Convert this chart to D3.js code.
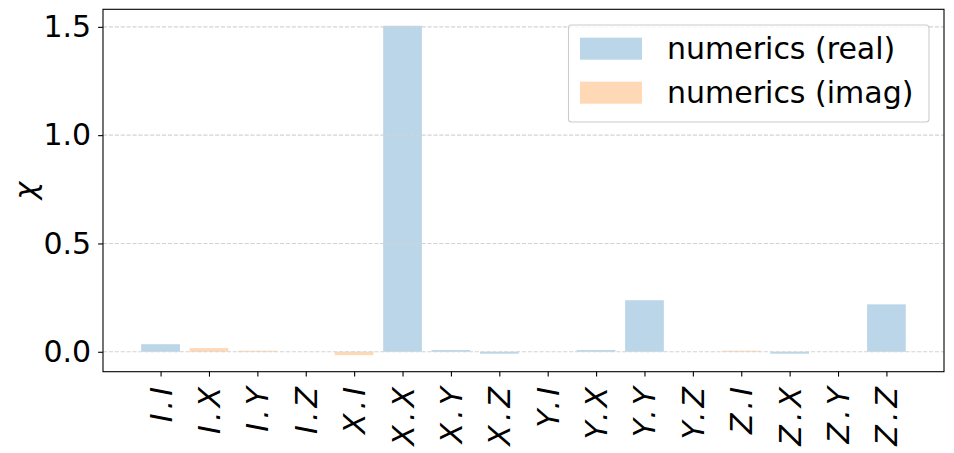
<!DOCTYPE html>
<html><head><meta charset="utf-8">
<script src="https://cdn.jsdelivr.net/npm/d3@7"></script>
<style>body{margin:0;background:#fff;}svg{display:block;}</style>
</head><body>
<svg id="c" width="954" height="453"></svg>
<script>
const categories = ["I.I","I.X","I.Y","I.Z","X.I","X.X","X.Y","X.Z","Y.I","Y.X","Y.Y","Y.Z","Z.I","Z.X","Z.Y","Z.Z"];
const realValues = [0.035, 0, 0, 0, 0, 1.505, 0.008, -0.009, 0, 0.008, 0.238, 0, 0, -0.009, 0, 0.219];
const imagValues = [0, 0.017, 0.005, 0, -0.016, 0, 0, 0, 0, 0, 0, 0, 0.005, 0, 0, 0];
const yTicks = [0.0, 0.5, 1.0, 1.5];
const seriesNames = ["numerics (real)", "numerics (imag)"];

const svg = d3.select("#c");
const L = 103, R = 944, T = 9.3, B = 371.7;
const font = "DejaVu Sans, sans-serif";
const FS = 30;
const x = d3.scaleLinear().domain([-1.19, 16.19]).range([L, R]);
const y = d3.scaleLinear().domain([-0.092, 1.581]).range([B, T]);
const bw = 0.8;

function bars(vals, color) {
  svg.append("g").selectAll("rect").data(vals).join("rect")
    .attr("x", (d, i) => x(i - bw / 2))
    .attr("width", x(bw) - x(0))
    .attr("y", d => y(Math.max(0, d)))
    .attr("height", d => Math.abs(y(d) - y(0)))
    .attr("fill", color).attr("fill-opacity", 0.3);
}
bars(realValues, "#1f77b4");
bars(imagValues, "#ff7f0e");

// grid
svg.append("g").selectAll("line").data(yTicks).join("line")
  .attr("x1", L).attr("x2", R)
  .attr("y1", d => y(d)).attr("y2", d => y(d))
  .attr("stroke", "#d3d3d3").attr("stroke-width", 1.1)
  .attr("stroke-dasharray", "4.1,1.8");

// axes
const yAxis = d3.axisLeft(y).tickValues(yTicks).tickFormat(d3.format(".1f")).tickSize(4.9).tickPadding(7);
const gy = svg.append("g").attr("transform", `translate(${L},0)`).call(yAxis);
gy.select(".domain").remove();
gy.selectAll("line").attr("stroke", "#000").attr("stroke-width", 1.1);
gy.selectAll("text").attr("font-family", font).attr("font-size", FS).attr("fill", "#000");

const xAxis = d3.axisBottom(x).tickValues(d3.range(categories.length)).tickFormat(i => categories[i]).tickSize(4.9).tickPadding(0);
const gx = svg.append("g").attr("transform", `translate(0,${B})`).call(xAxis);
gx.select(".domain").remove();
gx.selectAll("line").attr("stroke", "#000").attr("stroke-width", 1.1);
gx.selectAll("text")
  .attr("font-family", font).attr("font-size", FS).attr("font-style", "italic")
  .attr("fill", "#000").attr("letter-spacing", "4px")
  .attr("text-anchor", "middle").attr("dy", null).attr("y", 0)
  .attr("dominant-baseline", "central")
  .attr("transform", "rotate(-90)");
gx.selectAll(".tick").each(function() {
  const t = d3.select(this).select("text");
  const bb = this.querySelector("text").getBoundingClientRect();
  const desiredTop = 383;
  const shift = desiredTop - bb.top;
  t.attr("transform", `translate(0,${shift}) rotate(-90)`);
});

// frame
svg.append("rect").attr("x", L).attr("y", T).attr("width", R - L).attr("height", B - T)
  .attr("fill", "none").attr("stroke", "#000").attr("stroke-width", 1.1);

// y label
svg.append("text").attr("transform", `translate(25,${(T + B) / 2}) rotate(-90)`)
  .attr("text-anchor", "middle").attr("dominant-baseline", "central")
  .attr("font-family", font).attr("font-size", FS)
  .attr("font-style", "italic").text("χ");

// legend
const lg = svg.append("g");
lg.append("rect").attr("x", 568.5).attr("y", 25).attr("width", 360.5).attr("height", 97)
  .attr("rx", 3).attr("fill", "#fff").attr("fill-opacity", 0.8)
  .attr("stroke", "#cccccc").attr("stroke-width", 1.1);
const colors = ["#1f77b4", "#ff7f0e"];
seriesNames.forEach((n, i) => {
  const yy = 37.7 + i * 44;
  lg.append("rect").attr("x", 580).attr("y", yy).attr("width", 62).attr("height", 22)
    .attr("fill", colors[i]).attr("fill-opacity", 0.3);
  lg.append("text").attr("x", 667).attr("y", yy + 11).attr("dy", "0.35em")
    .attr("font-family", font).attr("font-size", FS).text(n);
});
</script>
</body></html>
